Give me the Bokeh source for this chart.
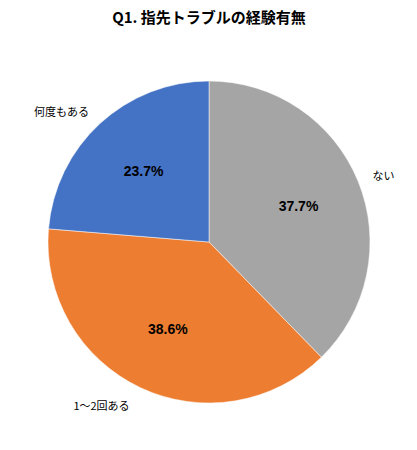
import math
from bokeh.plotting import figure
from bokeh.models import Range1d, ColumnDataSource
from bokeh.core.properties import value
from bokeh.embed import file_html
from bokeh.resources import INLINE

title_text = "Q1. 指先トラブルの経験有無"
categories = ["ない", "1〜2回ある", "何度もある"]
percents = [37.7, 38.6, 23.7]
colors = ["#A5A5A5", "#ED7D31", "#4472C4"]

W, H = 401, 434
p = figure(width=W, height=H, output_backend="svg", toolbar_location=None,
           x_range=Range1d(0, W), y_range=Range1d(450 - H, 450),
           min_border=0, outline_line_color=None)
p.axis.visible = False
p.grid.visible = False
p.background_fill_color = "white"
p.border_fill_color = "white"

cx, cy, R = 208.5, 450 - 241.5, 161

total = sum(percents)
starts, ends, mids = [], [], []
acc = 0.0
for v in percents:
    a0 = math.pi / 2 - acc / total * 2 * math.pi
    acc += v
    a1 = math.pi / 2 - acc / total * 2 * math.pi
    starts.append(a0)
    ends.append(a1)
    mids.append((a0 + a1) / 2)

src = ColumnDataSource(dict(start=starts, end=ends, color=colors))
p.wedge(x=cx, y=cy, radius=R, start_angle="start", end_angle="end",
        direction="clock", fill_color="color", line_color="white", line_width=0.5, source=src)

lx = [cx + 0.6 * R * math.cos(m) for m in mids]
ly = [cy + 0.6 * R * math.sin(m) for m in mids]
p.text(x=lx, y=ly, text=[f"{v:.1f}%" for v in percents], text_align="center",
       text_baseline="middle", text_font=value("Liberation Sans"), text_font_style="bold",
       text_font_size="14px", text_color="#000000")

# outside category labels (page pixel anchors)
cat_pos = [(383, 174), (101, 404), (61, 110)]
p.text(x=[q[0] for q in cat_pos], y=[450 - q[1] for q in cat_pos], text=categories,
       text_align="center", text_baseline="middle", text_font=value("Noto Sans CJK JP"),
       text_font_size="11px", text_color="#000000")

p.text(x=[208.5], y=[450 - 16], text=[title_text], text_align="center", text_baseline="middle",
       text_font=value("Noto Sans CJK JP"), text_font_style="bold", text_font_size="15px",
       text_color="#000000")

open("out.html", "w").write(file_html(p, INLINE))
